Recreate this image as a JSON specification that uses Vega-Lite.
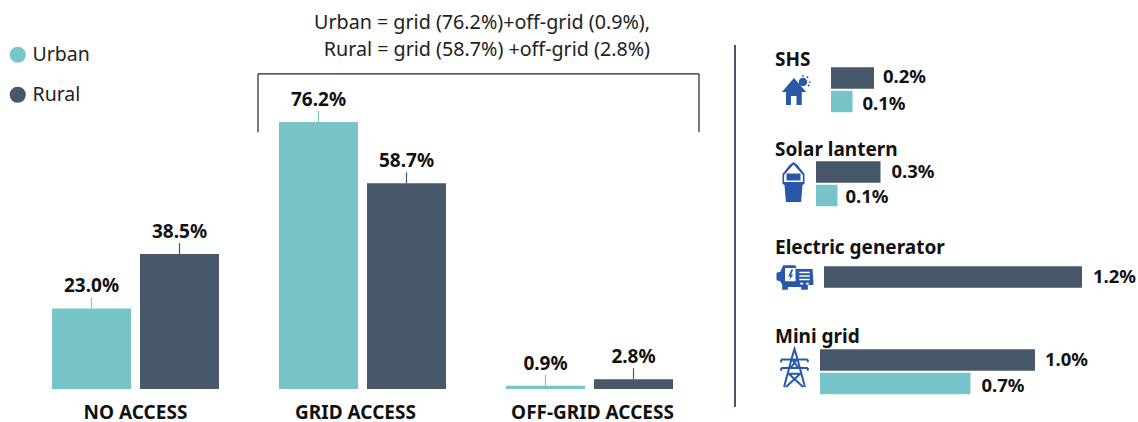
{
"$schema":"https://vega.github.io/schema/vega-lite/v6.json",
"padding":0,"autosize":{"type":"pad"},"spacing":0,
"background":"white",
"config":{"view":{"stroke":null},"font":"Noto Sans","text":{"font":"Noto Sans"},"concat":{"spacing":0}},
"datasets":{
"access":[
{"group":"NO ACCESS","area":"Urban","share":0.23},
{"group":"NO ACCESS","area":"Rural","share":0.385},
{"group":"GRID ACCESS","area":"Urban","share":0.762},
{"group":"GRID ACCESS","area":"Rural","share":0.587},
{"group":"OFF-GRID ACCESS","area":"Urban","share":0.009},
{"group":"OFF-GRID ACCESS","area":"Rural","share":0.028}],
"devices":[
{"device":"SHS","area":"Rural","share":0.002},
{"device":"SHS","area":"Urban","share":0.001},
{"device":"Solar lantern","area":"Rural","share":0.003},
{"device":"Solar lantern","area":"Urban","share":0.001},
{"device":"Electric generator","area":"Rural","share":0.012},
{"device":"Mini grid","area":"Rural","share":0.01},
{"device":"Mini grid","area":"Urban","share":0.007}]
},
"hconcat":[
{"width":725,"height":422,
"encoding":{
"x":{"field":"group","type":"nominal","sort":["NO ACCESS","GRID ACCESS","OFF-GRID ACCESS"],
 "scale":{"domain":["NO ACCESS","GRID ACCESS","OFF-GRID ACCESS"],"paddingInner":0,"paddingOuter":0.0969},
 "axis":null}
},
"layer":[
{"data":{"name":"access"},"mark":{"type":"bar"},
 "encoding":{
 "xOffset":{"field":"area","type":"nominal","scale":{"domain":["Urban","Rural"],"paddingInner":0.1023,"paddingOuter":0.341}},
 "y":{"field":"share","type":"quantitative","scale":{"domain":[-0.09418,1.1101],"nice":false,"zero":false},"axis":null},
 "color":{"field":"area","type":"nominal","scale":{"domain":["Urban","Rural"],"range":["#78c5c9","#475968"]},
  "legend":{"title":null,"orient":"none","legendX":8,"legendY":45,"symbolType":"circle","symbolSize":260,"symbolStrokeWidth":0,"labelFontSize":19.5,"labelColor":"#222222","labelFont":"Noto Sans","rowPadding":19,"labelOffset":5}}
 }},
{"data":{"name":"access"},"mark":{"type":"rule","y2Offset":-11,"strokeWidth":1.2},
 "encoding":{
 "xOffset":{"field":"area","type":"nominal"},
 "y":{"field":"share","type":"quantitative"},
 "y2":{"field":"share"},
 "color":{"field":"area","type":"nominal"}
 }},
{"data":{"name":"access"},"mark":{"type":"text","fontSize":19,"fontWeight":"bold","color":"#111111","yOffset":-22,"baseline":"middle"},
 "encoding":{
 "xOffset":{"field":"area","type":"nominal"},
 "y":{"field":"share","type":"quantitative"},
 "text":{"field":"share","type":"quantitative","format":".1%"}
 }},
{"data":{"values":[{"group":"NO ACCESS","level":-0.0685}]},
 "mark":{"type":"text","fontSize":19,"fontWeight":"bold","color":"#111111","baseline":"middle"},
 "encoding":{"y":{"field":"level","type":"quantitative"},"text":{"field":"group"}}},
{"data":{"values":[{"group":"GRID ACCESS","level":-0.0685}]},
 "mark":{"type":"text","fontSize":19,"fontWeight":"bold","color":"#111111","baseline":"middle","xOffset":-7},
 "encoding":{"y":{"field":"level","type":"quantitative"},"text":{"field":"group"}}},
{"data":{"values":[{"group":"OFF-GRID ACCESS","level":-0.0685}]},
 "mark":{"type":"text","fontSize":19,"fontWeight":"bold","color":"#111111","baseline":"middle","xOffset":3},
 "encoding":{"y":{"field":"level","type":"quantitative"},"text":{"field":"group"}}},
{"data":{"values":[{"left":"GRID ACCESS","right":"OFF-GRID ACCESS","top":0.899,"bottom":0.733}]},
 "mark":{"type":"rule","color":"#222222","strokeWidth":1.2,"xOffset":-104.5,"x2Offset":109.5},
 "encoding":{"x":{"field":"left","type":"nominal"},"x2":{"field":"right"},"y":{"field":"top","type":"quantitative"}}},
{"data":{"values":[{"left":"GRID ACCESS","top":0.899,"bottom":0.733}]},
 "mark":{"type":"rule","color":"#222222","strokeWidth":1.2,"xOffset":-104.5},
 "encoding":{"x":{"field":"left","type":"nominal"},"y":{"field":"top","type":"quantitative"},"y2":{"field":"bottom"}}},
{"data":{"values":[{"right":"OFF-GRID ACCESS","top":0.899,"bottom":0.733}]},
 "mark":{"type":"rule","color":"#222222","strokeWidth":1.2,"xOffset":109.5},
 "encoding":{"x":{"field":"right","type":"nominal"},"y":{"field":"top","type":"quantitative"},"y2":{"field":"bottom"}}},
{"data":{"values":[
 {"anchor":"GRID ACCESS","level":1.044,"note":"Urban = grid (76.2%)+off-grid (0.9%),"},
 {"anchor":"GRID ACCESS","level":0.966,"note":"Rural = grid (58.7%) +off-grid (2.8%)"}]},
 "mark":{"type":"text","fontSize":19.7,"color":"#222222","align":"right","baseline":"middle","xOffset":287.5},
 "encoding":{"x":{"field":"anchor","type":"nominal"},"y":{"field":"level","type":"quantitative"},"text":{"field":"note"}}}
],
"resolve":{"scale":{"color":"shared"}}
},
{"width":413,"height":422,
"layer":[
{"data":{"values":[{"from":"Title","to":"Urban"}]},
 "mark":{"type":"rule","color":"#475968","strokeWidth":2,"xOffset":10,"yOffset":33.25,"y2Offset":348.25},
 "encoding":{"x":{"datum":0,"type":"quantitative","scale":{"domain":[0,0.019209],"nice":false,"zero":false},"axis":null},
 "y":{"field":"from","type":"nominal","scale":{"domain":["Title","Rural","Urban"],"range":[0,70.5],"paddingInner":0.087,"paddingOuter":0.0435},"axis":null},"y2":{"field":"to"}}},

{"data":{"name":"devices"},"transform":[{"filter":"datum.device==='SHS'"}],"mark":{"type":"bar","xOffset":106,"x2Offset":106,"yOffset":42.75,"y2Offset":42.75},
 "encoding":{"x":{"field":"share","type":"quantitative"},"y":{"field":"area","type":"nominal"},"color":{"field":"area","type":"nominal","scale":{"domain":["Urban","Rural"],"range":["#78c5c9","#475968"]},"legend":null}}},
{"data":{"name":"devices"},"transform":[{"filter":"datum.device==='Solar lantern'"}],"mark":{"type":"bar","xOffset":91,"x2Offset":91,"yOffset":136.75,"y2Offset":136.75},
 "encoding":{"x":{"field":"share","type":"quantitative"},"y":{"field":"area","type":"nominal"},"color":{"field":"area","type":"nominal","legend":null}}},
{"data":{"name":"devices"},"transform":[{"filter":"datum.device==='Electric generator'"}],"mark":{"type":"bar","xOffset":99,"x2Offset":99,"yOffset":241.75,"y2Offset":241.75},
 "encoding":{"x":{"field":"share","type":"quantitative"},"y":{"field":"area","type":"nominal"},"color":{"field":"area","type":"nominal","legend":null}}},
{"data":{"name":"devices"},"transform":[{"filter":"datum.device==='Mini grid'"}],"mark":{"type":"bar","xOffset":95,"x2Offset":95,"yOffset":324.75,"y2Offset":324.75},
 "encoding":{"x":{"field":"share","type":"quantitative"},"y":{"field":"area","type":"nominal"},"color":{"field":"area","type":"nominal","legend":null}}},

{"data":{"name":"devices"},"transform":[{"filter":"datum.device==='SHS' && datum.area==='Rural'"}],"mark":{"type":"text","fontSize":18.5,"fontWeight":"bold","color":"#111111","align":"left","baseline":"middle","xOffset":115,"yOffset":41.75},
 "encoding":{"x":{"field":"share","type":"quantitative"},"y":{"field":"area","type":"nominal"},"text":{"field":"share","type":"quantitative","format":".1%"}}},
{"data":{"name":"devices"},"transform":[{"filter":"datum.device==='SHS' && datum.area==='Urban'"}],"mark":{"type":"text","fontSize":18.5,"fontWeight":"bold","color":"#111111","align":"left","baseline":"middle","xOffset":116,"yOffset":44.75},
 "encoding":{"x":{"field":"share","type":"quantitative"},"y":{"field":"area","type":"nominal"},"text":{"field":"share","type":"quantitative","format":".1%"}}},
{"data":{"name":"devices"},"transform":[{"filter":"datum.device==='Solar lantern' && datum.area==='Rural'"}],"mark":{"type":"text","fontSize":18.5,"fontWeight":"bold","color":"#111111","align":"left","baseline":"middle","xOffset":102,"yOffset":136.75},
 "encoding":{"x":{"field":"share","type":"quantitative"},"y":{"field":"area","type":"nominal"},"text":{"field":"share","type":"quantitative","format":".1%"}}},
{"data":{"name":"devices"},"transform":[{"filter":"datum.device==='Solar lantern' && datum.area==='Urban'"}],"mark":{"type":"text","fontSize":18.5,"fontWeight":"bold","color":"#111111","align":"left","baseline":"middle","xOffset":99,"yOffset":138.25},
 "encoding":{"x":{"field":"share","type":"quantitative"},"y":{"field":"area","type":"nominal"},"text":{"field":"share","type":"quantitative","format":".1%"}}},
{"data":{"name":"devices"},"transform":[{"filter":"datum.device==='Electric generator'"}],"mark":{"type":"text","fontSize":18.5,"fontWeight":"bold","color":"#111111","align":"left","baseline":"middle","xOffset":110,"yOffset":241.75},
 "encoding":{"x":{"field":"share","type":"quantitative"},"y":{"field":"area","type":"nominal"},"text":{"field":"share","type":"quantitative","format":".1%"}}},
{"data":{"name":"devices"},"transform":[{"filter":"datum.device==='Mini grid' && datum.area==='Rural'"}],"mark":{"type":"text","fontSize":18.5,"fontWeight":"bold","color":"#111111","align":"left","baseline":"middle","xOffset":105,"yOffset":324.75},
 "encoding":{"x":{"field":"share","type":"quantitative"},"y":{"field":"area","type":"nominal"},"text":{"field":"share","type":"quantitative","format":".1%"}}},
{"data":{"name":"devices"},"transform":[{"filter":"datum.device==='Mini grid' && datum.area==='Urban'"}],"mark":{"type":"text","fontSize":18.5,"fontWeight":"bold","color":"#111111","align":"left","baseline":"middle","xOffset":106,"yOffset":327.25},
 "encoding":{"x":{"field":"share","type":"quantitative"},"y":{"field":"area","type":"nominal"},"text":{"field":"share","type":"quantitative","format":".1%"}}},

{"data":{"values":[{"device":"SHS","slot":"Title"}]},"mark":{"type":"text","fontSize":19,"fontWeight":"bold","color":"#111111","align":"left","baseline":"middle","xOffset":50,"yOffset":48.25},
 "encoding":{"x":{"datum":0,"type":"quantitative"},"y":{"field":"slot","type":"nominal"},"text":{"field":"device"}}},
{"data":{"values":[{"device":"Solar lantern","slot":"Title"}]},"mark":{"type":"text","fontSize":19,"fontWeight":"bold","color":"#111111","align":"left","baseline":"middle","xOffset":50,"yOffset":138.25},
 "encoding":{"x":{"datum":0,"type":"quantitative"},"y":{"field":"slot","type":"nominal"},"text":{"field":"device"}}},
{"data":{"values":[{"device":"Electric generator","slot":"Title"}]},"mark":{"type":"text","fontSize":19,"fontWeight":"bold","color":"#111111","align":"left","baseline":"middle","xOffset":50,"yOffset":236.25},
 "encoding":{"x":{"datum":0,"type":"quantitative"},"y":{"field":"slot","type":"nominal"},"text":{"field":"device"}}},
{"data":{"values":[{"device":"Mini grid","slot":"Title"}]},"mark":{"type":"text","fontSize":19,"fontWeight":"bold","color":"#111111","align":"left","baseline":"middle","xOffset":50,"yOffset":325.25},
 "encoding":{"x":{"datum":0,"type":"quantitative"},"y":{"field":"slot","type":"nominal"},"text":{"field":"device"}}},

{"data":{"values":[{"device":"SHS","slot":"Title"}]},"mark":{"type":"point","filled":true,"size":900,"color":"#2a58a8","opacity":1,"xOffset":70,"yOffset":78.25,
 "shape":"M-0.87 0.13 L-0.07 -0.8 L0.75 0.13 L0.45 0.13 L0.45 1 L0.1 1 L0.1 0.4 L-0.27 0.4 L-0.27 1 L-0.6 1 L-0.6 0.13 Z M0.25 -0.53 A0.28 0.28 0 1 1 0.81 -0.53 A0.28 0.28 0 1 1 0.25 -0.53 Z M0.49 -1 L0.57 -1 L0.57 -0.87 L0.49 -0.87 Z M0.92 -0.57 L1.05 -0.57 L1.05 -0.49 L0.92 -0.49 Z M0.84 -0.93 L0.91 -0.86 L0.82 -0.76 L0.75 -0.83 Z M0.83 -0.32 L0.9 -0.38 L0.99 -0.28 L0.92 -0.22 Z"},
 "encoding":{"x":{"datum":0,"type":"quantitative"},"y":{"field":"slot","type":"nominal"}}},
{"data":{"values":[{"device":"Solar lantern","slot":"Title"}]},"mark":{"type":"point","filled":true,"size":1600,"color":"#2a58a8","opacity":1,"xOffset":68.5,"yOffset":170.25,
 "shape":"M0 -1 L0.2 -0.85 L0.55 -0.4 L0.55 0.1 L0.45 0.15 L0.38 1 L-0.38 1 L-0.45 0.15 L-0.55 0.1 L-0.55 -0.4 L-0.2 -0.85 Z M0 -0.88 L-0.47 -0.35 L-0.47 0 L0.47 0 L0.47 -0.35 Z M-0.35 -0.42 L0.35 -0.42 L0.35 -0.08 L-0.35 -0.08 Z"},
 "encoding":{"x":{"datum":0,"type":"quantitative"},"y":{"field":"slot","type":"nominal"}}},
{"data":{"values":[{"device":"Electric generator","slot":"Title"}]},"mark":{"type":"point","filled":true,"size":1444,"color":"#2a58a8","opacity":1,"xOffset":70.5,"yOffset":265.75,
 "shape":"M-0.65 -0.65 L0 -0.65 L0.05 -0.45 L0.9 -0.45 L0.95 0.4 L0.65 0.4 L0.65 0.65 L0.3 0.65 L0.3 0.5 L-0.4 0.5 L-0.4 0.65 L-0.7 0.65 L-0.7 0.4 L-0.8 0.2 L-1 0.15 L-1 -0.25 L-0.8 -0.3 Z M-0.55 -0.5 L-0.55 0.2 L0 0.2 L0 -0.5 Z M-0.22 -0.42 L-0.38 -0.05 L-0.27 -0.05 L-0.33 0.15 L-0.12 -0.15 L-0.23 -0.15 L-0.12 -0.42 Z M0.2 -0.3 L0.2 -0.22 L0.75 -0.22 L0.75 -0.3 Z M0.2 -0.12 L0.2 -0.04 L0.75 -0.04 L0.75 -0.12 Z M0.2 0.06 L0.2 0.14 L0.75 0.14 L0.75 0.06 Z M0.25 0.27 L0.25 0.37 L0.4 0.37 L0.4 0.27 Z M0.55 0.27 L0.55 0.37 L0.7 0.37 L0.7 0.27 Z"},
 "encoding":{"x":{"datum":0,"type":"quantitative"},"y":{"field":"slot","type":"nominal"}}},
{"data":{"values":[{"device":"Mini grid","slot":"Title"}]},"mark":{"type":"point","filled":false,"size":1444,"stroke":"#2a58a8","strokeWidth":2,"opacity":1,"xOffset":69.5,"yOffset":356.25,
 "shape":"M-0.55 1 L-0.12 -0.6 L0 -1 L0.12 -0.6 L0.55 1 M-0.7 -0.45 L0.7 -0.45 M-0.7 0 L0.7 0 M-0.3 0.3 L0.3 0.3 M-0.3 0.3 L0.45 1 M0.3 0.3 L-0.45 1 M-0.12 -0.45 L0.2 0 M0.12 -0.45 L-0.2 0 M-0.7 0 L-0.7 0.15 M0.7 0 L0.7 0.15 M-0.7 -0.45 L-0.7 -0.3 M0.7 -0.45 L0.7 -0.3"},
 "encoding":{"x":{"datum":0,"type":"quantitative"},"y":{"field":"slot","type":"nominal"}}}
]
}
]
}
